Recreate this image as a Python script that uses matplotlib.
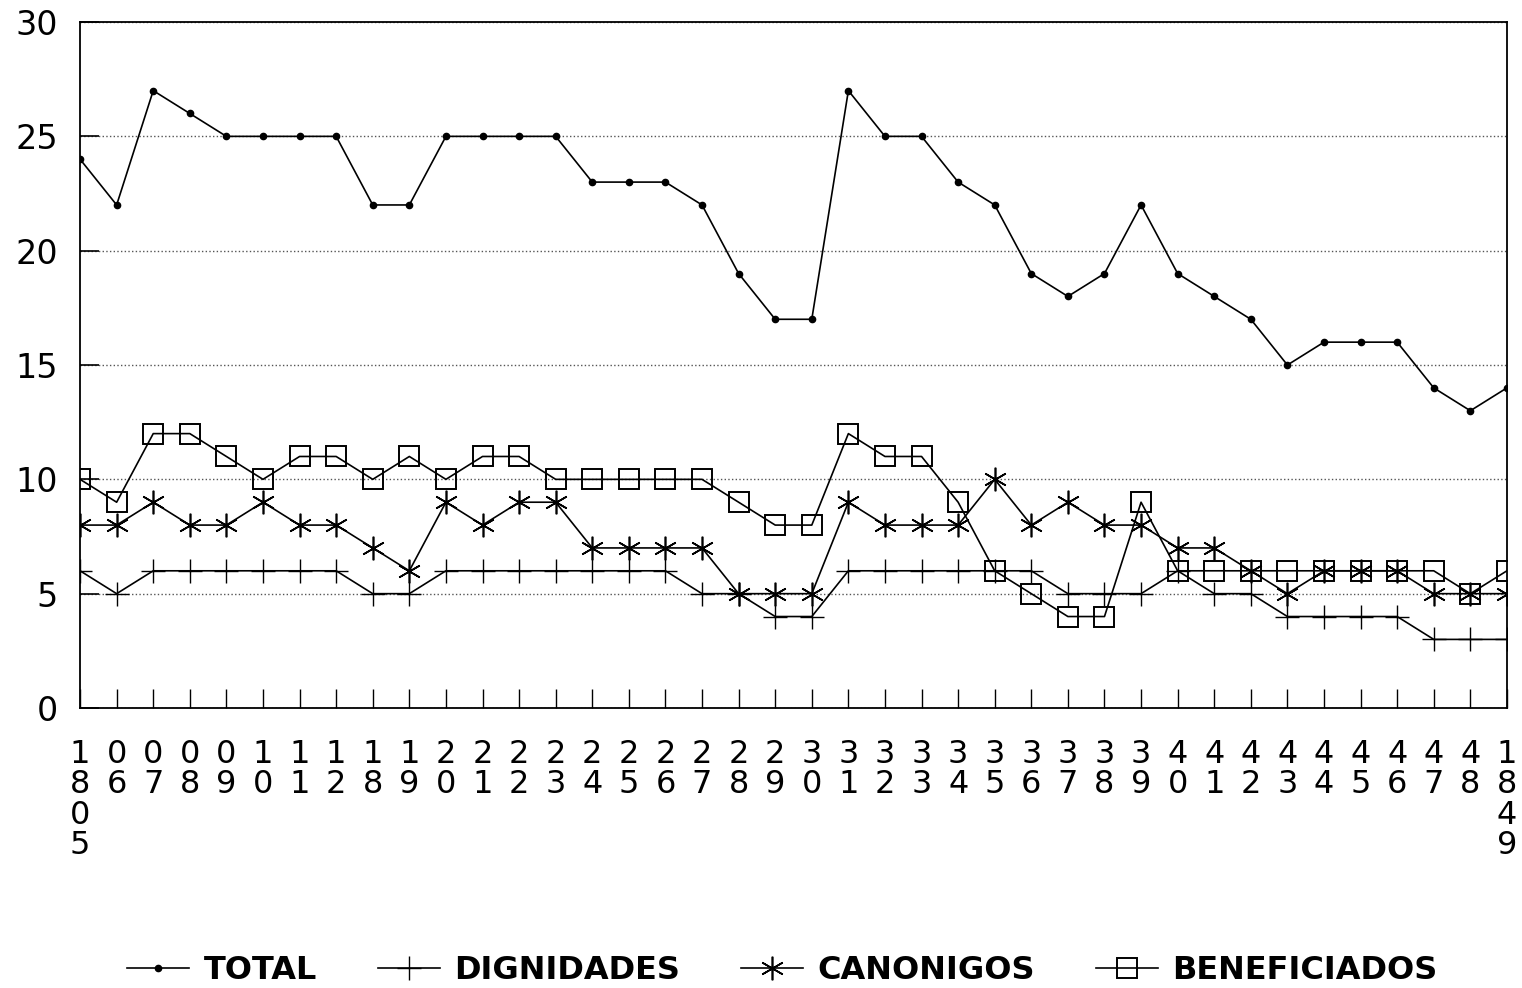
import matplotlib
matplotlib.use("Agg")
from matplotlib import pyplot as plt

# etiquetas del eje x (años)
etiquetas = ["1805", "06", "07", "08", "09", "10", "11", "12",
             "18", "19", "20", "21", "22", "23", "24", "25", "26", "27", "28", "29",
             "30", "31", "32", "33", "34", "35", "36", "37", "38", "39",
             "40", "41", "42", "43", "44", "45", "46", "47", "48", "1849"]

total = [24, 22, 27, 26, 25, 25, 25, 25, 22, 22, 25, 25, 25, 25, 23, 23, 23, 22, 19, 17,
         17, 27, 25, 25, 23, 22, 19, 18, 19, 22, 19, 18, 17, 15, 16, 16, 16, 14, 13, 14]
dignidades = [6, 5, 6, 6, 6, 6, 6, 6, 5, 5, 6, 6, 6, 6, 6, 6, 6, 5, 5, 4,
              4, 6, 6, 6, 6, 6, 6, 5, 5, 5, 6, 5, 5, 4, 4, 4, 4, 3, 3, 3]
canonigos = [8, 8, 9, 8, 8, 9, 8, 8, 7, 6, 9, 8, 9, 9, 7, 7, 7, 7, 5, 5,
             5, 9, 8, 8, 8, 10, 8, 9, 8, 8, 7, 7, 6, 5, 6, 6, 6, 5, 5, 5]
beneficiados = [10, 9, 12, 12, 11, 10, 11, 11, 10, 11, 10, 11, 11, 10, 10, 10, 10, 10, 9, 8,
                8, 12, 11, 11, 9, 6, 5, 4, 4, 9, 6, 6, 6, 6, 6, 6, 6, 6, 5, 6]

x = list(range(len(etiquetas)))

fig = plt.figure(figsize=(15.22, 9.88), dpi=100)
ax = fig.add_axes([0.0526, 0.2834, 0.9375, 0.6943])

lw = 1.2
ax.plot(x, total, color="black", lw=lw, marker="o", ms=4.5, label="TOTAL")
ax.plot(x, dignidades, color="black", lw=lw, marker="+", ms=17, mew=1.0, label="DIGNIDADES")
ax.plot(x, canonigos, color="black", lw=lw, marker=(6, 2, 0), ms=17, mew=1.2, label="CANONIGOS")
ax.plot(x, beneficiados, color="black", lw=lw, marker="s", ms=14, mfc="none", mew=1.4,
        label="BENEFICIADOS")

ax.set_xlim(0, 39)
ax.set_ylim(0, 30)
ax.set_yticks([0, 5, 10, 15, 20, 25, 30])
ax.set_xticks(x)
ax.set_xticklabels(["\n".join(e) for e in etiquetas], fontsize=23, linespacing=0.98)
ax.tick_params(axis="y", direction="in", length=14, width=1.2, labelsize=24, pad=16)
ax.tick_params(axis="x", direction="in", length=14, width=1.0, pad=22)

ax.yaxis.grid(True, linestyle=":", color="#555555", lw=1.0)
ax.set_axisbelow(True)
for s in ax.spines.values():
    s.set_linewidth(1.3)

fig.legend(loc="lower center", bbox_to_anchor=(0.514, -0.027), ncol=4, frameon=False,
           prop={"size": 23, "weight": "bold"}, handlelength=1.95, handletextpad=0.45,
           columnspacing=1.9)

plt.savefig("out.png", dpi=100)
